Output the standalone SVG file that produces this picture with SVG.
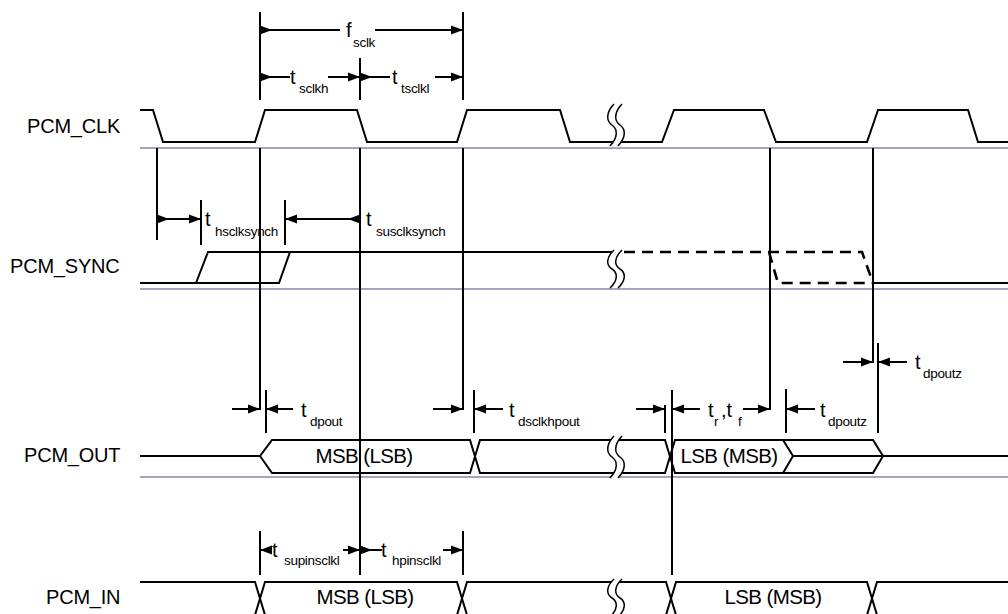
<svg xmlns="http://www.w3.org/2000/svg" xmlns:xlink="http://www.w3.org/1999/xlink" width="1008" height="614" viewBox="0 0 1008 614">
<style>
.w{fill:none;stroke:#000;stroke-width:2;stroke-linejoin:miter}
.d{fill:none;stroke:#000;stroke-width:2.6;stroke-dasharray:11,7}
.g{fill:none;stroke:#a4a4bc;stroke-width:2}
.v{fill:none;stroke:#000;stroke-width:2}
.lbl{font-family:"Liberation Sans",Arial,sans-serif;font-size:20px;fill:#000;letter-spacing:-0.2px}
.big{font-family:"Liberation Sans",Arial,sans-serif;font-size:20.5px;fill:#000;letter-spacing:-0.6px;text-anchor:middle}
.t{font-family:"Liberation Sans",Arial,sans-serif;font-size:20px;fill:#000}
.s{font-family:"Liberation Sans",Arial,sans-serif;font-size:13.5px;fill:#000;letter-spacing:-0.3px}
.ah{fill:#000}
.bk{fill:#fff;stroke:none}
.bs{fill:none;stroke:#000;stroke-width:1.5}
</style>
<defs>
<path id="ar" class="ah" d="M0,0 L-12,-4.5 L-12,4.5 Z"/>
<path id="al" class="ah" d="M0,0 L12,-4.5 L12,4.5 Z"/>
<g id="brk">
<path class="bk" d="M-2,-20 C-10,-12 -10,-4 -4,0 C2,4 2,12 -6,20 L2,20 C10,12 10,4 4,0 C-2,-4 -2,-12 6,-20 Z"/>
<path class="bs" vector-effect="non-scaling-stroke" d="M-2,-20 C-10,-12 -10,-4 -4,0 C2,4 2,12 -6,20"/>
<path class="bs" vector-effect="non-scaling-stroke" d="M6,-20 C-2,-12 -2,-4 4,0 C10,4 10,12 2,20"/>
</g>
</defs>
<rect width="1008" height="614" fill="#fff"/>

<g id="baselines">
<line class="g" x1="140" y1="148" x2="1008" y2="148"/>
<line class="g" x1="140" y1="289" x2="1008" y2="289"/>
<line class="g" x1="140" y1="477" x2="1008" y2="477"/>
</g>

<g id="pcm_clk">
<text class="lbl" x="27" y="133">PCM_CLK</text>
<path class="w" d="M140,110 L153,110 L163,142 L255,142 L265,110 L357,110 L367,142 L457,142 L467,110 L560,110 L570,142 L662,142 L674,110 L764,110 L776,142 L867,142 L878,110 L968,110 L978,142 L1008,142"/>
<use xlink:href="#brk" href="#brk" transform="translate(616,125) scale(1,1.05)"/>
</g>

<g id="pcm_sync">
<text class="lbl" x="10" y="273">PCM_SYNC</text>
<path class="w" d="M140,283 L279,283 L290,252 M196,283 L208,252 L612,252"/>
<path class="d" d="M624,252 L862,252 L873,283 M769,252 L778,283 L873,283"/>
<path class="w" d="M873,283 L1008,283"/>
<use xlink:href="#brk" href="#brk" transform="translate(616,269) scale(1,0.95)"/>
</g>

<g id="pcm_out">
<text class="lbl" x="24" y="462">PCM_OUT</text>
<path class="w" d="M140,456 L260,456 L272,440 L470,440 L480,473 L665,473 L675,440 L873,440 L883,456 L873,473 L675,473 L665,440 L480,440 L470,473 L272,473 L260,456"/>
<path class="w" d="M783,440 L793,456 L783,473 M793,456 L1008,456"/>
<use xlink:href="#brk" href="#brk" transform="translate(616,457) scale(1,1.05)"/>
<text class="big" x="364" y="463">MSB (LSB)</text>
<text class="big" x="729" y="463">LSB (MSB)</text>
</g>

<g id="pcm_in">
<text class="lbl" x="46" y="604">PCM_IN</text>
<path class="w" d="M140,582 L255,582 L265,615 M140,615 L255,615 L265,582 L457,582 L467,615 L666,615 L676,582 L867,582 L877,615 L1008,615 M265,615 L457,615 L467,582 L666,582 L676,615 L867,615 L877,582 L1008,582"/>
<use xlink:href="#brk" href="#brk" transform="translate(616,598) scale(1,0.95)"/>
<text class="big" x="365" y="604">MSB (LSB)</text>
<text class="big" x="773" y="604">LSB (MSB)</text>
</g>

<g id="connectors">
<path class="v" d="M260,12 L260,100 M260,148 L260,410 M463,12 L463,100 M463,148 L463,410 M360,58 L360,100 M360,148 L360,575 M157,148 L157,240 M770,148 L770,410 M873,148 L873,363 M672,390 L672,575"/>
<path class="v" d="M201,200 L201,245 M285,200 L285,245 M266,390 L266,433 M474,390 L474,433 M665,405 L665,433 M786,389 L786,433 M878,343 L878,433 M260,531 L260,575 M463,531 L463,575"/>

<path class="v" d="M260,30 L340,30 M375,30 L463,30"/>
<use href="#ar" xlink:href="#ar" x="272" y="30"/>
<use href="#ar" xlink:href="#ar" x="463" y="30"/>
<text class="t" x="346" y="37">f</text><text class="s" x="353" y="47">sclk</text>

<path class="v" d="M260,77 L290,77 M328,77 L360,77 M360,77 L390,77 M435,77 L463,77"/>
<use href="#ar" xlink:href="#ar" x="272" y="77"/>
<use href="#ar" xlink:href="#ar" x="360" y="77"/>
<use href="#ar" xlink:href="#ar" x="372" y="77"/>
<use href="#ar" xlink:href="#ar" x="463" y="77"/>
<text class="t" x="290" y="84">t</text><text class="s" x="299" y="93">sclkh</text>
<text class="t" x="392" y="84">t</text><text class="s" x="401" y="93">tsclkl</text>

<path class="v" d="M157,219 L201,219 M285,219 L360,219"/>
<use href="#ar" xlink:href="#ar" x="169" y="219"/>
<use href="#ar" xlink:href="#ar" x="201" y="219"/>
<use href="#al" xlink:href="#al" x="285" y="219"/>
<use href="#al" xlink:href="#al" x="348" y="219"/>
<text class="t" x="205" y="226">t</text><text class="s" x="215" y="236">hsclksynch</text>
<text class="t" x="366" y="226">t</text><text class="s" x="376" y="236">susclksynch</text>

<path class="v" d="M232,409 L260,409 M266,409 L293,409 M433,409 L463,409 M474,409 L503,409 M636,409 L665,409 M672,409 L700,409 M743,409 L770,409 M786,409 L815,409 M843,362 L873,362 M878,362 L907,362"/>
<use href="#ar" xlink:href="#ar" x="260" y="409"/>
<use href="#al" xlink:href="#al" x="266" y="409"/>
<use href="#ar" xlink:href="#ar" x="463" y="409"/>
<use href="#al" xlink:href="#al" x="474" y="409"/>
<use href="#ar" xlink:href="#ar" x="665" y="409"/>
<use href="#al" xlink:href="#al" x="672" y="409"/>
<use href="#ar" xlink:href="#ar" x="770" y="409"/>
<use href="#al" xlink:href="#al" x="786" y="409"/>
<use href="#ar" xlink:href="#ar" x="873" y="362"/>
<use href="#al" xlink:href="#al" x="878" y="362"/>
<text class="t" x="301" y="417">t</text><text class="s" x="310" y="426">dpout</text>
<text class="t" x="509" y="417">t</text><text class="s" x="518" y="426">dsclkhpout</text>
<text class="t" x="708" y="417">t</text><text class="s" x="714" y="426">r</text>
<text class="t" x="721" y="417">,t</text><text class="s" x="738" y="426">f</text>
<text class="t" x="820" y="417">t</text><text class="s" x="828" y="426">dpoutz</text>
<text class="t" x="915" y="369">t</text><text class="s" x="923" y="378">dpoutz</text>

<path class="v" d="M260,550 L271,550 M343,550 L360,550 M360,550 L382,550 M443,550 L463,550"/>
<use href="#al" xlink:href="#al" x="260" y="550"/>
<use href="#ar" xlink:href="#ar" x="360" y="550"/>
<use href="#ar" xlink:href="#ar" x="372" y="550"/>
<use href="#ar" xlink:href="#ar" x="463" y="550"/>
<text class="t" x="272" y="557">t</text><text class="s" x="284" y="565">supinsclkl</text>
<text class="t" x="381" y="557">t</text><text class="s" x="392" y="565">hpinsclkl</text>
</g>
</svg>
